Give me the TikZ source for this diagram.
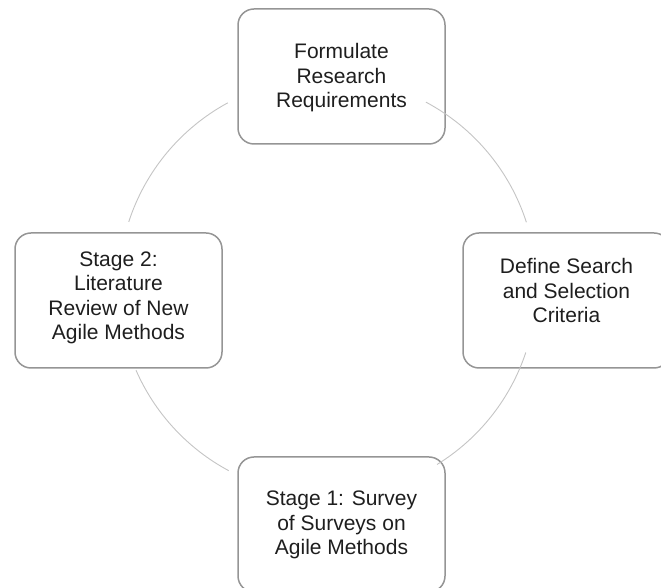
\documentclass[tikz,border=0pt]{standalone}
\usepackage{fontspec}
\setmainfont{Liberation Sans}
\definecolor{boxgray}{HTML}{959595}
\definecolor{arcgray}{HTML}{C4C4C4}
\definecolor{txt}{HTML}{1E1E1E}
\begin{document}
\begin{tikzpicture}[x=1pt,y=1pt,
  stagebox/.style={draw=boxgray, line width=1.5pt, rounded corners=16pt,
    minimum width=207pt, minimum height=135pt, inner sep=0pt},
  stagetext/.style={align=center, text=txt, inner sep=0pt,
    font=\fontsize{21}{24.5}\selectfont},
  arcline/.style={draw=arcgray, line width=0.9pt}]
\useasboundingbox (0,0) rectangle (661,588);
\coordinate (c) at (327.5,301.5);
% boxes
\node[stagebox] (top) at (341.5,511.5) {};
\node[stagebox] (left) at (118.5,287.5) {};
\node[stagebox] (right) at (566.5,287.5) {};
\node[stagebox] (bottom) at (341.5,63.5) {};
% texts
\node[stagetext] (toptext) at (341.5,510) {Formulate\\Research\\Requirements};
\node[stagetext] (lefttext) at (118.5,290) {Stage 2:\\Literature\\Review of New\\Agile Methods};
\node[stagetext] (righttext) at (566.5,297) {Define Search\\and Selection\\Criteria};
\node[stagetext] (bottomtext) at (341.5,63) {Stage 1: Survey\\of Surveys on\\Agile Methods};
% arcs
\draw[arcline] (c) ++(118.5:209) arc[start angle=118.5, end angle=162, radius=209];
\draw[arcline] (c) ++(17.9:209) arc[start angle=17.9, end angle=61.9, radius=209];
\draw[arcline] (c) ++(203.6:209) arc[start angle=203.6, end angle=241.8, radius=209];
\draw[arcline] (c) ++(301.6:209) arc[start angle=301.6, end angle=341.6, radius=209];
\end{tikzpicture}
\end{document}
